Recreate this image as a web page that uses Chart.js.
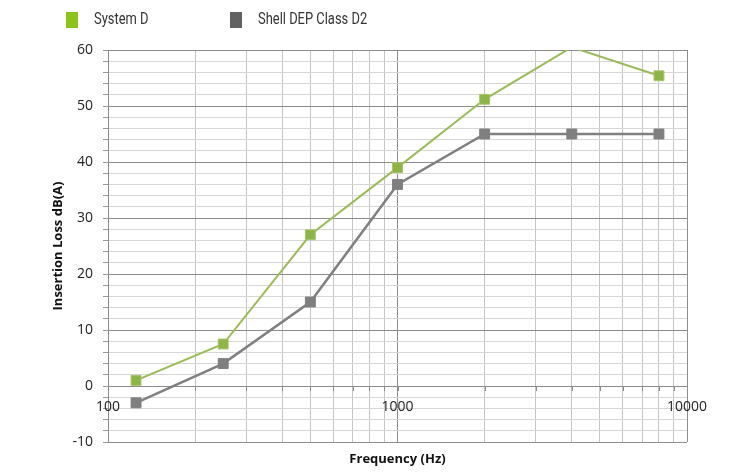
<!DOCTYPE html>
<html>
<head>
<meta charset="utf-8">
<script src="https://cdn.jsdelivr.net/npm/chart.js@4"></script>
<style>
  html, body { margin: 0; padding: 0; background: #fff; }
  #wrap { width: 732px; height: 473px; }
</style>
</head>
<body>
<div id="wrap"><canvas id="chart" width="732" height="473"></canvas></div>
<script>
// values
const frequencies = [125, 250, 500, 1000, 2000, 4000, 8000];
const systemD = [1, 7.5, 27, 39, 51.2, 60.5, 55.4];
const shellD2 = [-3, 4, 15, 36, 45, 45, 45];
const seriesNames = ['System D', 'Shell DEP Class D2'];
const xTickLabels = [100, 1000, 10000];
const decades = [100, 1000];

const toPoints = vals => frequencies.map((f, i) => ({ x: f, y: vals[i] }));

// legend squares + x labels sitting on the zero line
const extras = {
  id: 'extras',
  afterDraw(chart) {
    const ctx = chart.ctx;
    const xs = chart.scales.x, ys = chart.scales.y;
    const y0 = ys.getPixelForValue(0);
    ctx.save();
    // minor ticks under the zero axis
    ctx.strokeStyle = '#8c8c8c';
    ctx.lineWidth = 1;
    xs.ticks.forEach(t => {
      const px = Math.round(xs.getPixelForValue(t.value)) + 0.5;
      ctx.beginPath(); ctx.moveTo(px, y0); ctx.lineTo(px, y0 + 5); ctx.stroke();
    });
    ctx.fillStyle = '#222';
    ctx.font = '14px "Open Sans", "Liberation Sans", sans-serif';
    ctx.textAlign = 'center';
    ctx.textBaseline = 'middle';
    xTickLabels.forEach(v => ctx.fillText(String(v), xs.getPixelForValue(v), y0 + 21));

    // legend (condensed look like the original's DIN face)
    const legendX = [66, 230];
    ctx.font = '17px Roboto, sans-serif';
    ctx.textAlign = 'left';
    chart.data.datasets.forEach((ds, i) => {
      ctx.fillStyle = ds.legendColor;
      ctx.fillRect(legendX[i], 12, 12, 16);
      ctx.save();
      ctx.translate(legendX[i] + 28, 20);
      ctx.scale(0.76, 1);
      ctx.fillStyle = '#333';
      ctx.fillText(ds.label, 0, 0);
      ctx.restore();
    });
    ctx.restore();
  }
};

new Chart(document.getElementById('chart'), {
  type: 'line',
  data: {
    datasets: [{
      label: seriesNames[0], data: toPoints(systemD),
      borderColor: '#9bbb59', borderWidth: 2,
      backgroundColor: '#8db446', pointBorderColor: '#a6c46a', pointBorderWidth: 1,
      legendColor: '#8dc21f',
      pointStyle: 'rect', pointRadius: c => (c.parsed && c.parsed.y > 60 ? 0 : 7), pointHoverRadius: 7
    }, {
      label: seriesNames[1], data: toPoints(shellD2),
      borderColor: '#808080', borderWidth: 2.5,
      backgroundColor: '#7f7f7f', pointBorderColor: '#7f7f7f', pointBorderWidth: 1,
      legendColor: '#626262',
      pointStyle: 'rect', pointRadius: 7, pointHoverRadius: 7
    }]
  },
  options: {
    responsive: false, animation: false,
    layout: { padding: { top: 50, right: 45, left: 0, bottom: 0 } },
    plugins: { legend: { display: false }, tooltip: { enabled: false } },
    scales: {
      x: {
        type: 'logarithmic', min: 100, max: 10000,
        afterBuildTicks: s => {
          const t = [];
          decades.forEach(d => { for (let k = 1; k <= 9; k++) t.push({ value: d * k }); });
          t.push({ value: 10000 });
          s.ticks = t;
        },
        afterFit: s => { s.height = 31; },
        ticks: { display: false, autoSkip: false },
        grid: {
          drawTicks: false,
          color: c => ([100, 1000, 10000].includes(c.tick.value) ? '#8c8c8c' : '#c4c4c4')
        },
        border: { display: false },
        title: {
          display: true, text: 'Frequency (Hz)', color: '#111',
          font: { family: '"Open Sans", "Liberation Sans", sans-serif', size: 13, weight: 'bold' },
          padding: { top: 0, bottom: 6 }
        }
      },
      y: {
        min: -10, max: 60,
        afterFit: s => { s.width = 108; },
        ticks: {
          stepSize: 2, padding: 10, color: '#222', autoSkip: false,
          font: { family: '"Open Sans", "Liberation Sans", sans-serif', size: 14 },
          callback: v => (v % 10 === 0 ? v : '')
        },
        grid: {
          tickLength: 5,
          color: c => (c.tick.value % 10 === 0 ? '#8c8c8c' : '#d6d6d6'),
          tickColor: '#9a9a9a'
        },
        border: { color: '#8c8c8c' },
        title: {
          display: true, text: 'Insertion Loss dB(A)', color: '#111',
          font: { family: '"Open Sans", "Liberation Sans", sans-serif', size: 13, weight: 'bold' },
          padding: { top: 50, bottom: 0 }
        }
      }
    }
  },
  plugins: [extras]
});
</script>
</body>
</html>
